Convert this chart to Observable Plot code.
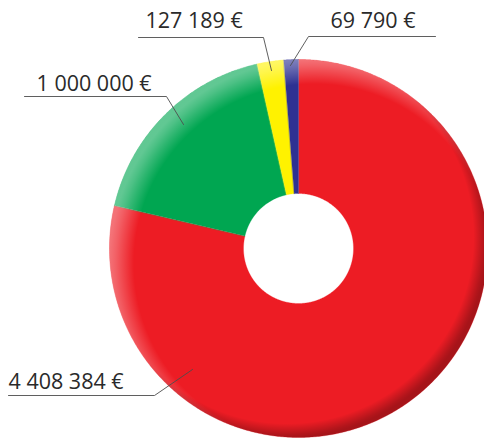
<!DOCTYPE html>
<html>
<head>
<meta charset="utf-8">
<script src="https://cdn.jsdelivr.net/npm/d3@7"></script>
<script src="https://cdn.jsdelivr.net/npm/@observablehq/plot@0.6"></script>
<style>
  html, body { margin: 0; padding: 0; background: #fff; }
  #chart svg { display: block; }
</style>
</head>
<body>
<div id="chart"></div>
<script>
// ---- data ----
const labels = ["4 408 384 €", "1 000 000 €", "127 189 €", "69 790 €"];
const values = [4408384, 1000000, 127189, 69790];
const colors = ["#ED1C24", "#00A651", "#FFF200", "#2E3192"];

// ---- layout (chart units: 1 unit = 1 px, origin at pie centre, y up) ----
const outerR = 189, innerR = 55;
// label text anchor and leader line (start, knee, end) per slice
const labelText = [[-290, -134], [-262, 164], [-153, 227], [32, 227]];
const labelLine = [
  [[-290, -147], [-144, -147], [-106, -121]],
  [[-274, 152], [-132, 152], [-115, 124]],
  [[-160, 211], [-35, 211], [-27, 178]],
  [[137, 212], [10, 212], [-8, 183]]
];

const total = d3.sum(values);
let acc = 0;
const slices = [];
values.forEach((v, i) => {
  const a0 = acc / total * 360, a1 = (acc + v) / total * 360;
  acc += v;
  const n = Math.max(2, Math.ceil((a1 - a0) / 0.5));
  for (let k = 0; k <= n; k++) {
    const a = (a0 + (a1 - a0) * k / n) * Math.PI / 180;
    slices.push({x: outerR * Math.sin(a), y: outerR * Math.cos(a), s: i});
  }
  for (let k = n; k >= 0; k--) {
    const a = (a0 + (a1 - a0) * k / n) * Math.PI / 180;
    slices.push({x: innerR * Math.sin(a), y: innerR * Math.cos(a), s: i});
  }
});

// full circle for lighting overlays
const circle = d3.range(0, 361, 1).map(a => ({
  x: outerR * Math.sin(a * Math.PI / 180),
  y: outerR * Math.cos(a * Math.PI / 180)
}));

const lines = labelLine.flatMap((pts, i) => pts.map(([x, y]) => ({x, y, s: i})));
const texts = labelText.map(([x, y], i) => ({x, y, label: labels[i]}));

const W = 484, H = 438;
const plot = Plot.plot({
  width: W, height: H,
  margin: 0,
  x: {domain: [-298, 186], axis: null},
  y: {domain: [-190, 248], axis: null},
  style: {background: "#fff", overflow: "visible"},
  marks: [
    Plot.line(slices, {x: "x", y: "y", z: "s", fill: d => colors[d.s], stroke: d => colors[d.s], strokeWidth: 0.3, curve: "linear-closed"}),
    Plot.line(circle, {x: "x", y: "y", fill: "url(#hl)", stroke: "none", curve: "linear-closed"}),
    Plot.line(circle, {x: "x", y: "y", fill: "url(#sh)", stroke: "none", curve: "linear-closed"}),
    Plot.line(lines, {x: "x", y: "y", z: "s", stroke: "#4d4d4d", strokeWidth: 0.9}),
    Plot.text(texts, {x: "x", y: "y", text: "label", textAnchor: "start", fontSize: 21.5, fontWeight: 400, fill: "#2a2a2a", fontFamily: "'Open Sans', 'Noto Sans', sans-serif"})
  ]
});

const svg = d3.select(plot);
const defs = svg.insert("defs", ":first-child");
const hl = defs.append("radialGradient").attr("id", "hl")
  .attr("cx", 0.54).attr("cy", 0.54).attr("r", 0.54);
hl.append("stop").attr("offset", 0.88).attr("stop-color", "#fff").attr("stop-opacity", 0);
hl.append("stop").attr("offset", 0.97).attr("stop-color", "#fff").attr("stop-opacity", 0.3);
hl.append("stop").attr("offset", 1).attr("stop-color", "#fff").attr("stop-opacity", 0.38);
const sh = defs.append("radialGradient").attr("id", "sh")
  .attr("cx", 0.47).attr("cy", 0.47).attr("r", 0.53);
sh.append("stop").attr("offset", 0.93).attr("stop-color", "#000").attr("stop-opacity", 0);
sh.append("stop").attr("offset", 0.985).attr("stop-color", "#000").attr("stop-opacity", 0.25);
sh.append("stop").attr("offset", 1).attr("stop-color", "#000").attr("stop-opacity", 0.3);

document.getElementById("chart").appendChild(plot);
</script>
</body>
</html>
